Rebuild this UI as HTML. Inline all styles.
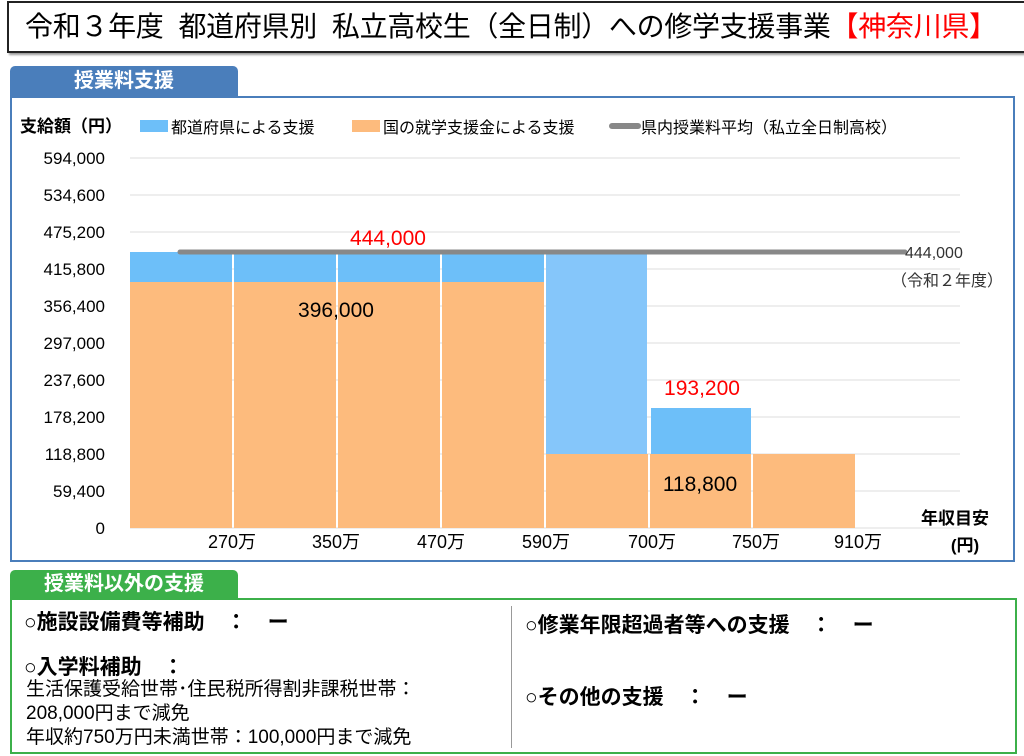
<!DOCTYPE html>
<html><head><meta charset="utf-8"><style>
body{margin:0;width:1024px;height:756px;background:#fff;font-family:"Liberation Sans","Noto Sans CJK JP",sans-serif;position:relative;overflow:hidden}
.a{position:absolute;white-space:nowrap}
</style></head><body>
<div class="a" style="left:7px;top:1px;width:1007px;height:48px;border:2px solid #222;box-shadow:2px 2px 2px #999;font-size:28px;line-height:48px;padding-left:16px;box-sizing:content-box;letter-spacing:-0.3px">令和３年度&nbsp; 都道府県別&nbsp; 私立高校生（全日制）への修学支援事業<span style="color:#f00">【神奈川県】</span></div>
<div class="a" style="left:10px;top:66px;width:228px;height:31px;background:#4a7ebb;border-radius:5px 5px 0 0;color:#fff;font-weight:bold;font-size:20px;line-height:31px;text-align:center">授業料支援</div>
<div class="a" style="left:10px;top:96px;width:1001px;height:462px;border:2px solid #4a7ebb"></div>
<svg class="a" style="left:0;top:0" width="1024" height="756" font-family="Liberation Sans, Noto Sans CJK JP, sans-serif">
<text x="20" y="132" font-size="17" font-weight="bold">支給額（円）</text>
<rect x="140" y="120" width="28" height="12" fill="#6dbff9"/><text x="171" y="133" font-size="16">都道府県による支援</text>
<rect x="352" y="120" width="28" height="12" fill="#fdbb7d"/><text x="383" y="133" font-size="16">国の就学支援金による支援</text>
<line x1="612" y1="126" x2="638" y2="126" stroke="#888" stroke-width="6" stroke-linecap="round"/><text x="641" y="133" font-size="16">県内授業料平均（私立全日制高校）</text>
<g stroke="#ddd" stroke-width="1">
<line x1="130" y1="158" x2="960" y2="158"/><line x1="130" y1="195" x2="960" y2="195"/><line x1="130" y1="232" x2="960" y2="232"/><line x1="130" y1="269" x2="960" y2="269"/><line x1="130" y1="306" x2="960" y2="306"/><line x1="130" y1="343" x2="960" y2="343"/><line x1="130" y1="380" x2="960" y2="380"/><line x1="130" y1="417" x2="960" y2="417"/><line x1="130" y1="454" x2="960" y2="454"/><line x1="130" y1="491" x2="960" y2="491"/><line x1="130" y1="528" x2="960" y2="528"/>
</g>
<g font-size="17" text-anchor="end">
<text x="105" y="164">594,000</text><text x="105" y="201">534,600</text><text x="105" y="238">475,200</text><text x="105" y="275">415,800</text><text x="105" y="312">356,400</text><text x="105" y="349">297,000</text><text x="105" y="386">237,600</text><text x="105" y="423">178,200</text><text x="105" y="460">118,800</text><text x="105" y="497">59,400</text><text x="105" y="534">0</text>
</g>
<g fill="#6dbff9">
<rect x="130" y="252" width="102" height="30"/><rect x="234" y="252" width="102" height="30"/><rect x="338" y="252" width="102" height="30"/><rect x="442" y="252" width="102" height="30"/>
<rect x="546" y="252" width="101" height="202" fill="#85c6fa"/><rect x="651" y="408" width="100" height="46"/>
</g>
<g fill="#fdbb7d">
<rect x="130" y="282" width="102" height="246"/><rect x="234" y="282" width="102" height="246"/><rect x="338" y="282" width="102" height="246"/><rect x="442" y="282" width="102" height="246"/>
<rect x="546" y="454" width="102" height="74"/><rect x="650" y="454" width="101" height="74"/><rect x="753" y="454" width="102" height="74"/>
</g>
<line x1="180" y1="252" x2="905" y2="252" stroke="#888" stroke-width="5" stroke-linecap="round"/>
<text x="388" y="245" font-size="21" fill="#f00" text-anchor="middle">444,000</text>
<text x="336" y="317" font-size="21" text-anchor="middle">396,000</text>
<text x="702" y="395" font-size="21" fill="#f00" text-anchor="middle">193,200</text>
<text x="700" y="491" font-size="21" text-anchor="middle">118,800</text>
<text x="905" y="258" font-size="16" fill="#333">444,000</text>
<text x="891" y="286" font-size="16" fill="#333">（令和２年度）</text>
<g font-size="18" text-anchor="middle">
<text x="232" y="548">270万</text><text x="336" y="548">350万</text><text x="441" y="548">470万</text><text x="546" y="548">590万</text><text x="652" y="548">700万</text><text x="756" y="548">750万</text><text x="858" y="548">910万</text>
</g>
<text x="955" y="524" font-size="17" font-weight="bold" text-anchor="middle">年収目安</text>
<text x="965" y="551" font-size="17" font-weight="bold" text-anchor="middle">(円)</text>
</svg>
<div class="a" style="left:10px;top:570px;width:228px;height:29px;background:#3cb04a;border-radius:5px 5px 0 0;color:#fff;font-weight:bold;font-size:20px;line-height:29px;text-align:center">授業料以外の支援</div>
<div class="a" style="left:10px;top:598px;width:1003px;height:152px;border:2px solid #3cb04a"></div>
<div class="a" style="left:511px;top:606px;width:1px;height:142px;background:#999"></div>
<div class="a" style="left:24px;top:606px;font-size:21px;font-weight:bold">○施設設備費等補助　：　ー</div>
<div class="a" style="left:24px;top:651px;font-size:21px;font-weight:bold">○入学料補助　：</div>
<div class="a" style="left:26px;top:678px;font-size:19px;line-height:24px">生活保護受給世帯･住民税所得割非課税世帯：<br>208,000円まで減免<br>年収約750万円未満世帯：100,000円まで減免</div>
<div class="a" style="left:525px;top:609px;font-size:21px;font-weight:bold">○修業年限超過者等への支援　：　ー</div>
<div class="a" style="left:525px;top:681px;font-size:21px;font-weight:bold">○その他の支援　：　ー</div>
</body></html>
